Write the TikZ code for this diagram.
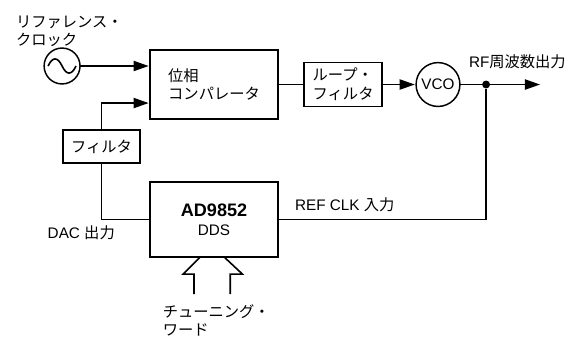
\documentclass[tikz,border=0pt]{standalone}
\usepackage{fontspec}
\setmainfont{Liberation Sans}
\newfontfamily\jpfont{Noto Sans CJK JP}
\usetikzlibrary{arrows.meta, positioning, calc}

\tikzset{
  block/.style={draw, line width=1.3pt, inner sep=0pt, outer sep=0pt,
                font=\fontsize{11.5}{14}\selectfont},
  ring/.style={draw, circle, line width=1.1pt, inner sep=0pt, outer sep=0pt,
               font=\fontsize{11.5}{14}\selectfont},
  lbl/.style={inner sep=0pt, outer sep=0pt, align=left,
              font=\fontsize{11.5}{13.5}\selectfont},
  wire/.style={line width=1.2pt},
  feed/.style={wire, -{Triangle[length=0.4cm, width=0.27cm]}, shorten >=1pt}
}

\begin{document}
\begin{tikzpicture}
  \node[block, minimum width=3.39cm, minimum height=1.83cm, align=left] (comparator)
    {\jpfont 位相\\\jpfont コンパレータ};
  \node[block, line width=1.5pt, minimum width=3.39cm, minimum height=1.98cm, align=center,
        below=1.67cm of comparator] (dds)
    {{\fontsize{13.6}{16}\selectfont\bfseries AD9852}\\DDS};
  \node[block, minimum width=2.04cm, minimum height=0.87cm,
        below left=0.29cm and 0.26cm of comparator] (filter) {\jpfont フィルタ};
  \node[block, minimum width=2.06cm, minimum height=1.16cm, align=left,
        right=0.69cm of comparator] (loopfilter)
    {\jpfont ループ・\\\jpfont フィルタ};
  \node[ring, minimum size=1.16cm, right=0.9cm of loopfilter] (vco) {VCO};
  \node[ring, minimum size=0.95cm, left=1.85cm of comparator, yshift=0.49cm] (source) {};
  \node[circle, fill=black, minimum size=0.21cm, inner sep=0pt,
        right=0.58cm of vco] (junction) {};
  \coordinate[right=1.35cm of junction] (rfout);
  \coordinate (cmpin) at ($(comparator.west)+(0,-0.49)$);

  \draw[wire] ($(source.center)+(-0.37,0)$)
    .. controls +(0.12,0.25) and +(-0.12,0.25) .. (source.center)
    .. controls +(0.12,-0.25) and +(-0.12,-0.25) .. ($(source.center)+(0.37,0)$);

  \draw[feed] (source) -- (source -| comparator.west);
  \draw[feed] (filter.north) |- (cmpin);
  \draw[wire] (comparator) -- (loopfilter);
  \draw[feed] (loopfilter) -- (vco);
  \draw[wire] (vco) -- (junction);
  \draw[feed] (junction) -- (rfout);
  \draw[wire] (dds.east) -| (junction);
  \draw[wire] (dds.west) -| (filter.south);

  \coordinate (wordl) at ($(dds.south)+(-0.37,0)$);
  \coordinate (wordr) at ($(dds.south)+(0.27,0)$);
  \draw[wire] (wordl) -- +(-0.45,-0.45) -- +(-0.16,-0.45) -- +(-0.16,-0.98);
  \draw[wire] (wordr) -- +(0.48,-0.45) -- +(0.16,-0.45) -- +(0.16,-0.98);

  \node[lbl, above=0.17cm of source.north west, xshift=-0.88cm, anchor=south west] (sourcelabel)
    {\jpfont リファレンス・\\\jpfont クロック};
  \node[lbl, above right=0.42cm and 1.52cm of vco.east, anchor=south] (rflabel)
    {RF{\jpfont 周波数出力}};
  \node[lbl, above right=0.2cm and 0.45cm of dds.east] (refclklabel)
    {REF CLK {\jpfont 入力}};
  \node[lbl, below left=0.15cm and 0.93cm of dds.west] (daclabel)
    {DAC {\jpfont 出力}};
  \node[lbl, below=1.25cm of dds.south, xshift=0.06cm] (wordlabel)
    {\jpfont チューニング・\\\jpfont ワード};

  \useasboundingbox ($(comparator.center)+(-5.662,2.236)$) rectangle +(15.37,-8.94);
\end{tikzpicture}
\end{document}
